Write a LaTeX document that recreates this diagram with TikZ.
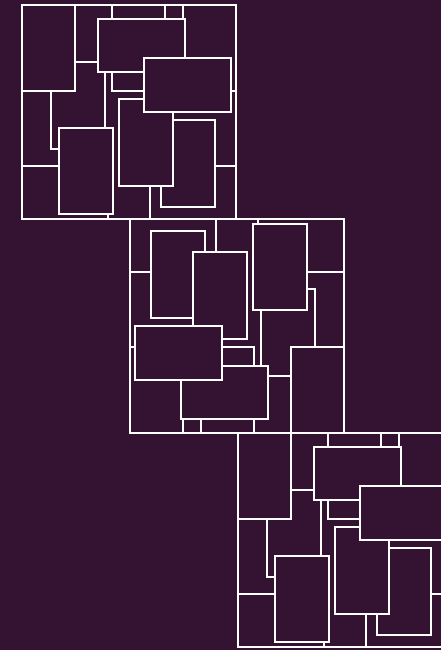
\documentclass[tikz,border=0pt]{standalone}
\usepackage{tikz}
\definecolor{plum}{HTML}{341231}
\tikzset{
  edge/.style={draw=white, line width=1.8pt},
  card/.style={edge, fill=plum},
  squarepatch/.pic={
    \begin{scope}[shift={(-107,-107)}]
      % cells of the grid
      \draw[edge] (0,0) rectangle (214,214);
      \draw[edge] (0,0) rectangle (53.3,85.7);
      \draw[edge] (89.7,0) rectangle (143,85.7);
      \draw[edge] (143,85.7) -- (214,85.7);
      \draw[edge] (160.7,0) -- (160.7,30);
      \draw[edge] (53.3,57.3) -- (90,57.3);
      \draw[edge] (83,57.3) -- (83,140);
      \draw[edge] (29,85.7) -- (29,144) -- (60,144);
      \draw[edge] (0,160.7) -- (50,160.7);
      \draw[edge] (86.3,170) -- (86.3,214);
      \draw[edge] (128,170) -- (128,214);
      \draw[edge] (180,160.7) -- (214,160.7);
      % loose cards on top
      \draw[card] (76.3,14) rectangle (163,67.3);
      \draw[card] (139,115) rectangle (193,201.7);
      \draw[card] (97.3,94.3) rectangle (151,181);
      \draw[card] (122.3,53.3) rectangle (209,106.7);
      \draw[card] (37,122.7) rectangle (90.7,209);
    \end{scope}
  }
}
\begin{document}
\begin{tikzpicture}[x=1pt, y=-1pt]
  \fill[plum] (0,0) rectangle (441,650);
  \useasboundingbox (0,0) rectangle (441,650);
  \clip (0,0) rectangle (441,650);
  \pic at (129,112) {squarepatch};
  \pic[rotate=180] at (237,326) {squarepatch};
  \pic at (345,540) {squarepatch};
\end{tikzpicture}
\end{document}
